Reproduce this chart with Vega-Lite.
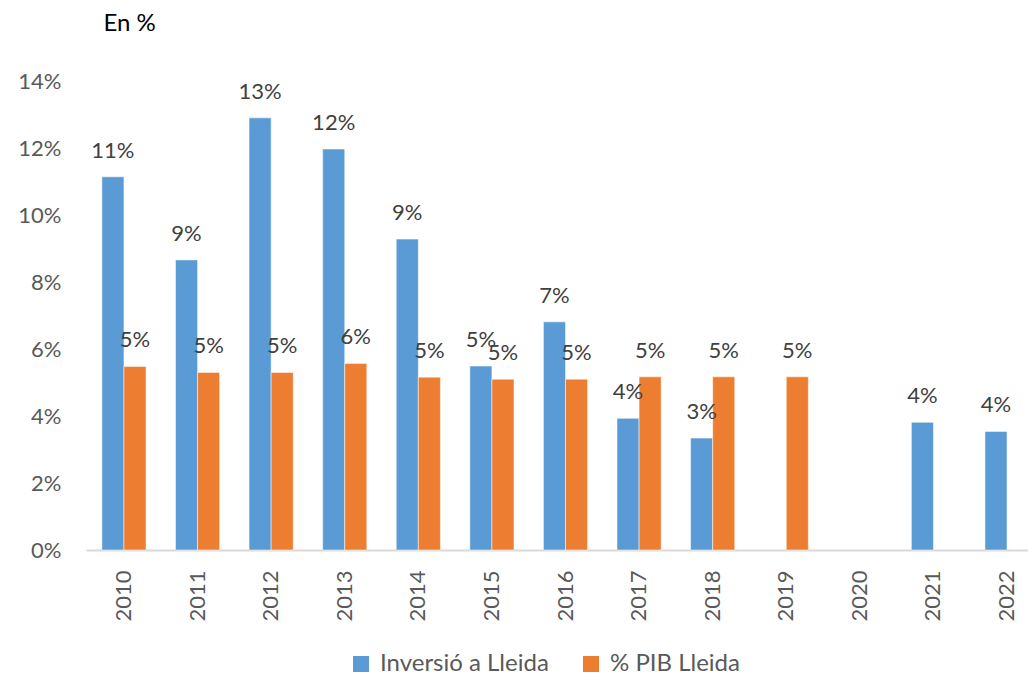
{
  "$schema": "https://vega.github.io/schema/vega-lite/v6.json",
  "autosize": {"type": "none"},
  "width": 942,
  "height": 469,
  "padding": {"left": 86, "top": 81, "right": 0, "bottom": 124},
  "background": "white",
  "config": {"view": {"stroke": null}, "font": "Lato"},
  "data": {"values": [
    {"year": "2010", "series": "Inversió a Lleida", "value": 0.1114},
    {"year": "2010", "series": "% PIB Lleida", "value": 0.0548},
    {"year": "2011", "series": "Inversió a Lleida", "value": 0.0866},
    {"year": "2011", "series": "% PIB Lleida", "value": 0.0530},
    {"year": "2012", "series": "Inversió a Lleida", "value": 0.1290},
    {"year": "2012", "series": "% PIB Lleida", "value": 0.0530},
    {"year": "2013", "series": "Inversió a Lleida", "value": 0.1197},
    {"year": "2013", "series": "% PIB Lleida", "value": 0.0557},
    {"year": "2014", "series": "Inversió a Lleida", "value": 0.0928},
    {"year": "2014", "series": "% PIB Lleida", "value": 0.0516},
    {"year": "2015", "series": "Inversió a Lleida", "value": 0.0549},
    {"year": "2015", "series": "% PIB Lleida", "value": 0.0510},
    {"year": "2016", "series": "Inversió a Lleida", "value": 0.0681},
    {"year": "2016", "series": "% PIB Lleida", "value": 0.0510},
    {"year": "2017", "series": "Inversió a Lleida", "value": 0.0393},
    {"year": "2017", "series": "% PIB Lleida", "value": 0.0517},
    {"year": "2018", "series": "Inversió a Lleida", "value": 0.0334},
    {"year": "2018", "series": "% PIB Lleida", "value": 0.0517},
    {"year": "2019", "series": "% PIB Lleida", "value": 0.0517},
    {"year": "2021", "series": "Inversió a Lleida", "value": 0.0381},
    {"year": "2022", "series": "Inversió a Lleida", "value": 0.0354}
  ]},
  "encoding": {
    "x": {
      "field": "year", "type": "nominal",
      "scale": {"domain": ["2010","2011","2012","2013","2014","2015","2016","2017","2018","2019","2020","2021","2022"], "range": [0, 959], "paddingInner": 0.4, "paddingOuter": 0.216},
      "axis": {"title": null, "labelAngle": -90, "ticks": false, "tickSize": 0, "labelPadding": 20, "labelFontSize": 22, "labelColor": "#595959", "domainColor": "#d9d9d9", "domainWidth": 2}
    },
    "xOffset": {"field": "series", "type": "nominal", "scale": {"domain": ["Inversió a Lleida", "% PIB Lleida"], "paddingInner": 0, "paddingOuter": 0}},
    "y": {
      "field": "value", "type": "quantitative",
      "scale": {"domain": [0, 0.14], "nice": false},
      "axis": {"title": "En %", "titleAngle": 0, "titleX": 17, "titleY": -51, "titleAlign": "left", "titleBaseline": "alphabetic", "titleFontSize": 24, "titleFontWeight": "normal", "titleColor": "#000000", "values": [0, 0.02, 0.04, 0.06, 0.08, 0.1, 0.12, 0.14], "format": ".0%", "grid": false, "domain": false, "ticks": false, "tickSize": 0, "labelPadding": 25, "labelFontSize": 22, "labelColor": "#595959"}
    }
  },
  "layer": [
    {
      "mark": {"type": "bar", "stroke": "white", "strokeWidth": 0.5},
      "encoding": {
        "color": {
          "field": "series", "type": "nominal",
          "scale": {"domain": ["Inversió a Lleida", "% PIB Lleida"], "range": ["#5B9BD5", "#ED7D31"]},
          "legend": {"title": null, "orient": "none", "direction": "horizontal", "legendX": 263, "legendY": 571, "symbolType": "square", "symbolSize": 256, "symbolStrokeWidth": 0, "labelFontSize": 24, "labelLimit": 0, "labelColor": "#595959", "labelOffset": 7, "columnPadding": 30, "padding": 0}
        }
      }
    },
    {
      "mark": {"type": "text", "fontSize": 22, "color": "#404040", "baseline": "alphabetic", "dy": -19},
      "encoding": {
        "text": {"field": "value", "type": "quantitative", "format": ".0%"}
      }
    }
  ]
}
